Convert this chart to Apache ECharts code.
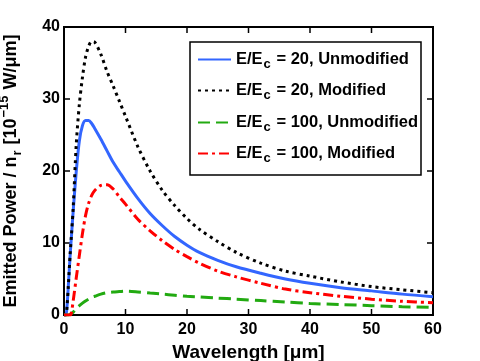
<!DOCTYPE html>
<html>
<head>
    <meta charset="utf-8">
    <title>Emitted Power vs Wavelength</title>
    <script type="text/javascript" src="https://cdn.jsdelivr.net/npm/echarts@6/dist/echarts.min.js"></script>
    <style>
        html, body { margin: 0; padding: 0; background: #fff; }
    </style>
</head>
<body>
<div id="container" style="width: 480px; height: 361px"></div>
<script type="text/javascript">
    // wavelength samples [um]
    var wavelength = [0, 0.3, 0.5, 0.7, 1, 1.2, 1.5, 2, 2.5, 3, 3.5, 4, 4.5, 5, 6, 7, 8, 9, 10,
        12, 14, 16, 18, 20, 22, 25, 28, 32, 36, 40, 45, 50, 55, 60];
    // E/Ec = 20, unmodified
    var e20Unmod = [0, 0, 1.3, 4.0, 8.3, 10.8, 14.5, 20.0, 24.2, 26.3, 27.0, 27.0, 26.6, 25.9, 24.4, 22.8, 21.2, 19.9, 18.6,
        16.2, 14.1, 12.4, 10.9, 9.7, 8.7, 7.6, 6.7, 5.8, 5.0, 4.4, 3.8, 3.35, 2.9, 2.55];
    // E/Ec = 20, modified
    var e20Mod = [0, 0, 1.3, 4.0, 8.5, 11.0, 15.0, 23.8, 29.3, 33.0, 35.8, 37.3, 38.0, 37.9, 36.2, 33.8, 31.8, 29.7, 27.6,
        23.4, 20.0, 17.3, 15.2, 13.4, 11.9, 10.2, 8.7, 7.2, 6.1, 5.4, 4.6, 3.95, 3.5, 3.1];
    // E/Ec = 100, unmodified
    var e100Unmod = [0, 0, 0, 0, 0.1, 0.2, 0.4, 0.9, 1.3, 1.65, 1.95, 2.2, 2.45, 2.6, 2.9, 3.1, 3.2, 3.25, 3.3,
        3.2, 3.05, 2.9, 2.75, 2.6, 2.5, 2.35, 2.2, 2.0, 1.8, 1.6, 1.45, 1.3, 1.15, 1.05];
    // E/Ec = 100, modified
    var e100Mod = [0, 0, 0, 0, 0, 0.3, 2.0, 5.2, 8.3, 11.3, 13.8, 15.5, 16.6, 17.3, 18.0, 18.1, 17.5, 16.4, 15.4,
        13.3, 11.7, 10.3, 9.1, 8.1, 7.2, 6.1, 5.3, 4.4, 3.6, 3.1, 2.6, 2.2, 1.9, 1.7];

    var seriesNames = ['20|Unmodified', '20|Modified', '100|Unmodified', '100|Modified'];
    var xTicks = [0, 10, 20, 30, 40, 50, 60];
    var yTicks = [0, 10, 20, 30, 40];

    function pairs(ys) {
        var out = [];
        for (var i = 0; i < wavelength.length; i++) {
            out.push([wavelength[i], ys[i]]);
        }
        return out;
    }

    var font = 'Liberation Sans, Arial, Helvetica, sans-serif';
    var legRich = {
        b: { fontSize: 16.5, fontWeight: 'bold', fontFamily: font, color: '#000' },
        s: { fontSize: 13, fontWeight: 'bold', fontFamily: font, color: '#000', padding: [10, 1, 0, 1] }
    };

    var dom = document.getElementById('container');
    var myChart = echarts.init(dom, null, { renderer: 'canvas' });

    // one legend block per row, so the row spacing can match the figure
    var legendTops = [51, 82, 114, 145];
    var legends = [];
    for (var k = 0; k < seriesNames.length; k++) {
        legends.push({
            orient: 'vertical',
            left: 197,
            top: legendTops[k],
            padding: 0,
            itemWidth: 33,
            itemHeight: 14,
            itemStyle: { opacity: 0 },
            selectedMode: false,
            textStyle: { rich: legRich },
            formatter: function (name) {
                var parts = name.split('|');
                return '{b|E/E}{s|c}{b| = ' + parts[0] + ', ' + parts[1] + '}';
            },
            data: [seriesNames[k]]
        });
    }

    var lineBlack = { show: true, lineStyle: { color: '#000', width: 2 } };
    var tickIn = { show: true, inside: true, length: 5, lineStyle: { color: '#000', width: 1.5 } };

    var option = {
        animation: false,
        grid: {
            left: 64, right: 47, top: 27, bottom: 46, outerBoundsMode: 'none',
            show: true, borderColor: '#000', borderWidth: 2
        },
        legend: legends,
        xAxis: [
            {
                type: 'value', min: 0, max: 60, interval: 10,
                name: 'Wavelength [μm]', nameLocation: 'middle', nameGap: 25,
                nameTextStyle: { fontSize: 19, fontWeight: 'bold', fontFamily: font, color: '#000' },
                axisLine: lineBlack,
                axisTick: tickIn,
                splitLine: { show: false },
                axisLabel: {
                    margin: 7, fontSize: 16, fontWeight: 'bold', fontFamily: font, color: '#000',
                    formatter: function (v) { return xTicks.indexOf(v) >= 0 ? String(v) : ''; }
                }
            }
        ],
        yAxis: [
            {
                type: 'value', min: 0, max: 40, interval: 10,
                name: '{b|Emitted Power / n}{s|r}{b| [10}{p|−15}{b| W/μm]}',
                nameLocation: 'middle', nameGap: 40, nameRotate: 90,
                nameTextStyle: {
                    rich: {
                        b: { fontSize: 18, fontWeight: 'bold', fontFamily: font, color: '#000' },
                        s: { fontSize: 13, fontWeight: 'bold', fontFamily: font, color: '#000', padding: [13, 1, 0, 1] },
                        p: { fontSize: 13, fontWeight: 'bold', fontFamily: font, color: '#000', padding: [0, 1, 13, 1] }
                    }
                },
                axisLine: lineBlack,
                axisTick: tickIn,
                splitLine: { show: false },
                axisLabel: {
                    margin: 4, fontSize: 16, fontWeight: 'bold', fontFamily: font, color: '#000',
                    formatter: function (v) { return yTicks.indexOf(v) >= 0 ? String(v) : ''; }
                }
            }
        ],
        series: [
            {
                name: seriesNames[0], type: 'line', smooth: 0.3, symbol: 'none',
                data: pairs(e20Unmod),
                color: '#3366ff',
                lineStyle: { color: '#3366ff', width: 3, type: 'solid' }
            },
            {
                name: seriesNames[1], type: 'line', smooth: 0.3, symbol: 'none',
                data: pairs(e20Mod),
                color: '#000',
                lineStyle: { color: '#000', width: 3, type: [3, 4] }
            },
            {
                name: seriesNames[2], type: 'line', smooth: 0.3, symbol: 'none',
                data: pairs(e100Unmod),
                color: '#22aa11',
                lineStyle: { color: '#22aa11', width: 3, type: [12, 6] }
            },
            {
                name: seriesNames[3], type: 'line', smooth: 0.3, symbol: 'none',
                data: pairs(e100Mod),
                color: '#ff0000',
                lineStyle: { color: '#ff0000', width: 3, type: [10, 4, 3, 4] }
            }
        ]
    };

    myChart.setOption(option);

    // box frame drawn as filled rects (black outer, white inner) behind the curves,
    // inward ticks as thin filled rects, all placed through the grid's own scales
    var lo = myChart.convertToPixel({ xAxisIndex: 0, yAxisIndex: 0 }, [0, 0]);
    var hi = myChart.convertToPixel({ xAxisIndex: 0, yAxisIndex: 0 }, [60, 40]);
    var x0 = lo[0], y0 = lo[1], x1 = hi[0], y1 = hi[1];
    var elems = [
        { type: 'rect', z: 0, silent: true,
          shape: { x: x0 - 1, y: y1 - 1, width: x1 - x0 + 2, height: y0 - y1 + 2 },
          style: { fill: '#000' } },
        { type: 'rect', z: 1, silent: true,
          shape: { x: x0 + 1, y: y1 + 1, width: x1 - x0 - 2, height: y0 - y1 - 2 },
          style: { fill: '#fff' } },
        // legend box
        { type: 'rect', z: 3, silent: true,
          shape: { x: 190, y: 42, width: 231, height: 133 },
          style: { fill: '#fff', stroke: '#000', lineWidth: 1.5 } }
    ];
    xTicks.forEach(function (t) {
        var px = myChart.convertToPixel({ xAxisIndex: 0 }, t);
        elems.push({ type: 'rect', z: 1, silent: true, shape: { x: px - 0.75, y: y0 - 6, width: 1.5, height: 6 }, style: { fill: '#000' } });
        elems.push({ type: 'rect', z: 1, silent: true, shape: { x: px - 0.75, y: y1, width: 1.5, height: 6 }, style: { fill: '#000' } });
    });
    yTicks.forEach(function (t) {
        var py = myChart.convertToPixel({ yAxisIndex: 0 }, t);
        elems.push({ type: 'rect', z: 1, silent: true, shape: { x: x0, y: py - 0.75, width: 6, height: 1.5 }, style: { fill: '#000' } });
        elems.push({ type: 'rect', z: 1, silent: true, shape: { x: x1 - 6, y: py - 0.75, width: 6, height: 1.5 }, style: { fill: '#000' } });
    });
    myChart.setOption({ graphic: { elements: elems } });

    window.addEventListener('resize', myChart.resize);
</script>
</body>
</html>
